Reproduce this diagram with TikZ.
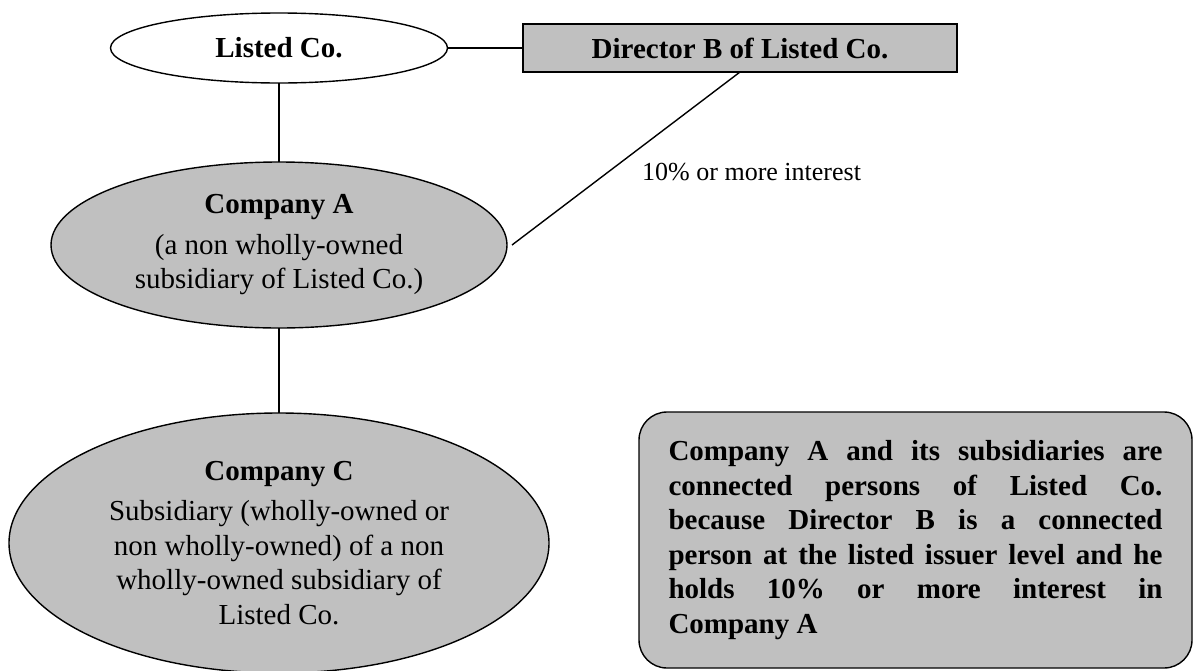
\documentclass[tikz,border=0pt]{standalone}
\usepackage{fontspec}
\setmainfont{Liberation Serif}
\usetikzlibrary{shapes.geometric,calc}
\definecolor{boxgray}{HTML}{C0C0C0}

\begin{document}
\begin{tikzpicture}[x=1pt,y=-1pt,
  textbig/.style={font=\fontsize{29}{34.5}\selectfont},
  entity/.style={ellipse, draw=black, line width=1.4pt, inner sep=0pt, outer sep=0pt,
                 align=center, textbig},
  shaded/.style={fill=boxgray},
  link/.style={draw=black, line width=1.4pt},
]
\useasboundingbox (0,0) rectangle (1199,670);
\clip (0,0) rectangle (1199,670);

% entities
\node[entity, minimum width=337pt, minimum height=70pt, font=\bfseries\fontsize{29}{34.5}\selectfont]
  (L) at (279,48) {Listed Co.};
\node[rectangle, draw=black, line width=1.4pt, shaded, inner sep=0pt, outer sep=0pt,
      minimum width=434pt, minimum height=48pt, font=\bfseries\fontsize{29}{34.5}\selectfont]
  (D) at (740,48) {Director B of Listed Co.};
\node[entity, shaded, minimum width=456pt, minimum height=166pt]
  (A) at (279,245) {\textbf{Company A}\\[6pt](a non wholly-owned\\subsidiary of Listed Co.)};
\node[entity, shaded, minimum width=540pt, minimum height=260pt]
  (C) at (279,543) {\textbf{Company C}\\[6pt]Subsidiary (wholly-owned or\\non wholly-owned) of a non\\wholly-owned subsidiary of\\Listed Co.};

% explanatory note
\node[draw=black, line width=1.4pt, shaded, rounded corners=28pt, anchor=north west,
      text width=494pt, align=justify, inner xsep=29.5pt, inner ysep=0pt, outer sep=0pt,
      minimum height=256pt, font=\bfseries\fontsize{29}{34.6}\selectfont]
  (N) at (639,412) {Company A and its subsidiaries are\linebreak
  connected persons of Listed Co.\linebreak
  because Director B is a connected\linebreak
  person at the listed issuer level and he\linebreak
  holds 10\% or more interest in\linebreak
  Company A};

% interest label
\node[anchor=base west, inner sep=0pt, font=\fontsize{26}{30}\selectfont]
  (lbl) at (642,180) {10\% or more interest};

% connectors
\coordinate (aEnd) at ([xshift=5pt]A.east);
\draw[link] (L.south) -- (A.north);
\draw[link] (L.east) -- (D.west);
\draw[link] (A.south) -- (C.north);
\draw[link] (D.south) -- (aEnd);
\end{tikzpicture}
\end{document}
